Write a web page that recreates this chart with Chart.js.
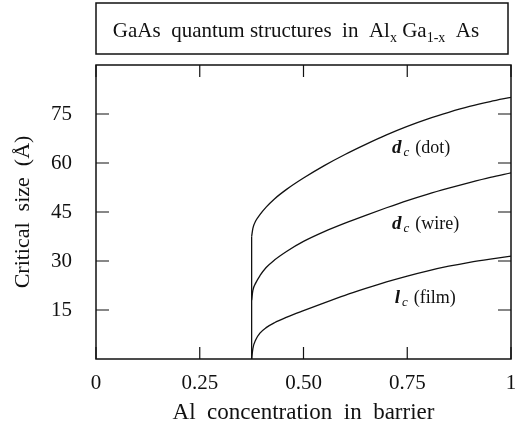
<!DOCTYPE html>
<html>
<head>
<meta charset="utf-8">
<script src="https://cdn.jsdelivr.net/npm/chart.js@4.4.0/dist/chart.umd.min.js"></script>
<style>
  html, body { margin: 0; padding: 0; background: #fff; }
  #myChart { display: block; }
</style>
</head>
<body>
<canvas id="myChart" width="516" height="431"></canvas>
<script>
// values
var xOnset = 0.375;
var xs = [0.375, 0.378, 0.385, 0.395, 0.41, 0.43, 0.46, 0.50, 0.55, 0.60, 0.65, 0.70, 0.75, 0.80, 0.85, 0.90, 0.95, 1.0];
var dotSize = [37.5, 40, 42.3, 44.2, 46.5, 49, 52, 55.4, 59.2, 62.6, 65.7, 68.6, 71.2, 73.5, 75.5, 77.3, 78.8, 80.1];
var wireSize = [18, 21, 23.3, 25.5, 28, 30.3, 33, 36, 39, 41.6, 44, 46.3, 48.5, 50.5, 52.3, 54, 55.6, 57];
var filmSize = [0, 3.2, 5.9, 7.9, 9.6, 11.1, 12.8, 14.8, 17.2, 19.5, 21.6, 23.6, 25.4, 27, 28.4, 29.6, 30.6, 31.5];

var xTickValues = [0, 0.25, 0.5, 0.75, 1];
var xTickLabels = ["0", "0.25", "0.50", "0.75", "1"];
var yTickValues = [15, 30, 45, 60, 75];
var yTickLabels = ["15", "30", "45", "60", "75"];

// curve labels: [sym, sub, rest, x, y]
var curveLabels = [
  ["d", "c", "(dot)", 0.713, 65],
  ["d", "c", "(wire)", 0.713, 41.6],
  ["l", "c", "(film)", 0.72, 19]
];

var serif = "'Liberation Serif', 'DejaVu Serif', serif";
var ink = "#111";

function pts(vals) {
  return xs.map(function (x, i) { return { x: x, y: vals[i] }; });
}

function curve(vals) {
  return {
    data: pts(vals),
    borderColor: ink,
    borderWidth: 1.3,
    pointRadius: 0,
    fill: false,
    cubicInterpolationMode: "monotone"
  };
}

var framePlugin = {
  id: "frame",
  beforeDraw: function (c) {
    var ctx = c.ctx;
    ctx.save();
    ctx.fillStyle = "#fff";
    ctx.fillRect(0, 0, c.width, c.height);
    ctx.restore();
  },
  afterDraw: function (c) {
    var ctx = c.ctx;
    var a = c.chartArea;
    var sx = c.scales.x, sy = c.scales.y;
    ctx.save();
    ctx.strokeStyle = ink;
    ctx.lineWidth = 1.5;
    ctx.strokeRect(a.left, a.top, a.right - a.left, a.bottom - a.top);

    // inner ticks on all four sides
    ctx.lineWidth = 1.2;
    ctx.beginPath();
    xTickValues.forEach(function (v) {
      var px = sx.getPixelForValue(v);
      ctx.moveTo(px, a.bottom); ctx.lineTo(px, a.bottom - 12);
      ctx.moveTo(px, a.top); ctx.lineTo(px, a.top + 12);
    });
    yTickValues.forEach(function (v) {
      var py = sy.getPixelForValue(v);
      ctx.moveTo(a.left, py); ctx.lineTo(a.left + 13, py);
      ctx.moveTo(a.right, py); ctx.lineTo(a.right - 13, py);
    });
    ctx.stroke();

    // title box
    ctx.lineWidth = 1.5;
    ctx.strokeRect(96, 3, 412, 51);
    var parts = [
      ["GaAs  quantum structures  in  Al", 21, 0],
      ["x", 14, 5],
      [" Ga", 21, 0],
      ["1-x", 14, 5],
      ["  As", 21, 0]
    ];
    var total = 0;
    parts.forEach(function (p) {
      ctx.font = p[1] + "px " + serif;
      p.push(ctx.measureText(p[0]).width);
      total += p[3];
    });
    var tx = 296 - total / 2;
    ctx.fillStyle = ink;
    ctx.textBaseline = "alphabetic";
    parts.forEach(function (p) {
      ctx.font = p[1] + "px " + serif;
      ctx.fillText(p[0], tx, 37 + p[2]);
      tx += p[3];
    });

    // curve labels
    curveLabels.forEach(function (l) {
      var lx = sx.getPixelForValue(l[3]);
      var ly = sy.getPixelForValue(l[4]) + 6;
      ctx.font = "italic bold 19px " + serif;
      ctx.fillText(l[0], lx, ly);
      lx += ctx.measureText(l[0]).width + 2;
      ctx.font = "italic 13px " + serif;
      ctx.fillText(l[1], lx, ly + 3);
      lx += ctx.measureText(l[1]).width + 6;
      ctx.font = "18px " + serif;
      ctx.fillText(l[2], lx, ly);
    });
    ctx.restore();
  }
};

var ctx = document.getElementById("myChart").getContext("2d");
var chart = new Chart(ctx, {
  type: "line",
  data: {
    datasets: [
      {
        data: [{ x: xOnset, y: 0 }, { x: xOnset, y: dotSize[0] }],
        borderColor: ink,
        borderWidth: 1.3,
        pointRadius: 0,
        fill: false
      },
      curve(dotSize),
      curve(wireSize),
      curve(filmSize)
    ]
  },
  options: {
    responsive: false,
    animation: false,
    layout: { padding: { left: 0, right: 5, top: 65, bottom: 0 } },
    plugins: {
      legend: { display: false },
      tooltip: { enabled: false }
    },
    scales: {
      x: {
        type: "linear",
        min: 0,
        max: 1,
        afterBuildTicks: function (axis) {
          axis.ticks = xTickValues.map(function (v) { return { value: v }; });
        },
        afterFit: function (axis) {
          axis.height = 72;
          axis.paddingLeft = 0;
          axis.paddingRight = 0;
        },
        grid: { display: false },
        border: { display: false },
        ticks: {
          color: ink,
          font: { family: serif, size: 21 },
          padding: 4,
          maxRotation: 0,
          callback: function (v) {
            var i = xTickValues.indexOf(v);
            return i >= 0 ? xTickLabels[i] : "";
          }
        },
        title: {
          display: true,
          text: "Al  concentration  in  barrier",
          color: ink,
          font: { family: serif, size: 23 },
          padding: { top: 0, bottom: 4 }
        }
      },
      y: {
        min: 0,
        max: 90,
        afterBuildTicks: function (axis) {
          axis.ticks = yTickValues.map(function (v) { return { value: v }; });
        },
        afterFit: function (axis) { axis.width = 96; },
        grid: { display: false },
        border: { display: false },
        ticks: {
          color: ink,
          font: { family: serif, size: 21 },
          padding: 16,
          callback: function (v) {
            var i = yTickValues.indexOf(v);
            return i >= 0 ? yTickLabels[i] : "";
          }
        },
        title: {
          display: true,
          text: "Critical  size  (Å)",
          color: ink,
          font: { family: serif, size: 22 },
          padding: { top: 10, bottom: 0 }
        }
      }
    }
  },
  plugins: [framePlugin]
});
</script>
</body>
</html>
